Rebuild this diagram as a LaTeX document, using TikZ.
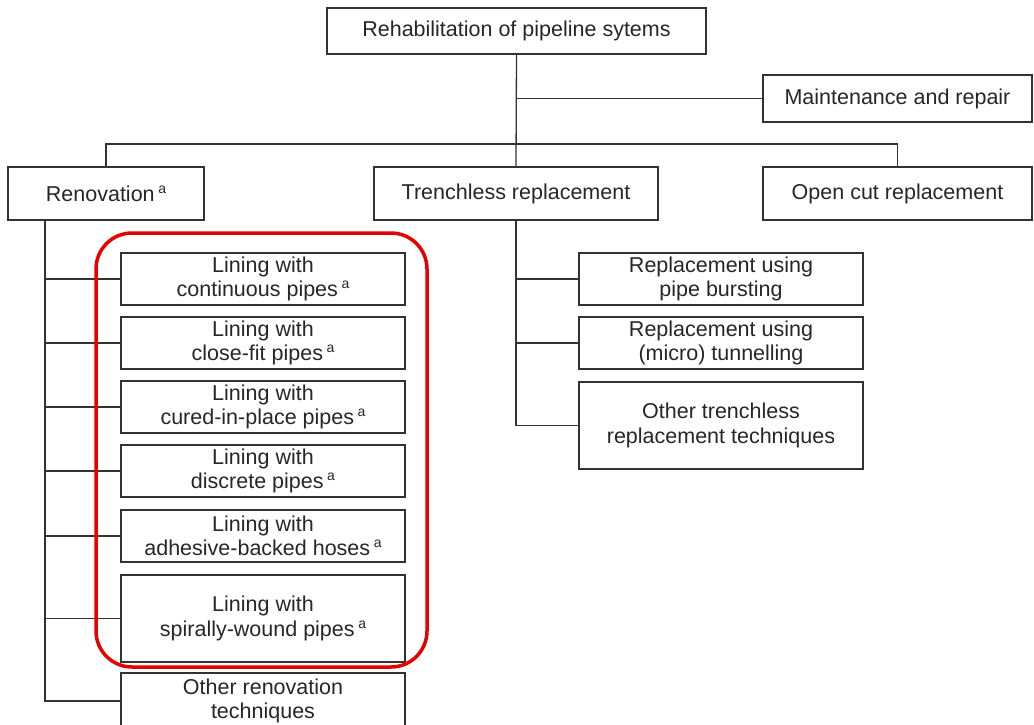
\documentclass[tikz,border=0pt]{standalone}
\usepackage{fontspec}
\setmainfont{Liberation Sans}
\newcommand{\supa}{\,\raisebox{0.7ex}{\fontsize{14}{14}\selectfont a}}
\begin{document}
\begin{tikzpicture}[x=1pt,y=-1pt,
  box/.style={draw=black!80, line width=1.3pt, inner sep=0pt, align=center,
    text=black!85, font=\fontsize{21.5}{24.5}\selectfont},
  conn/.style={draw=black!80, line width=1.3pt},
  hilite/.style={draw={rgb,255:red,230;green,0;blue,0}, line width=3.5pt, rounded corners=36pt}]
\useasboundingbox (0,0) rectangle (1034,724);
% top level
\node[box, minimum width=379pt, minimum height=46pt] (rehab) at (516.5,31) {Rehabilitation of pipeline sytems};
\node[box, minimum width=269pt, minimum height=47pt] (maint) at (897.5,98.5) {Maintenance and repair};
\node[box, minimum width=196pt, minimum height=53pt] (reno) at (106,193.5) {Renovation\supa};
\node[box, minimum width=284pt, minimum height=53pt] (trench) at (516,193.5) {Trenchless replacement};
\node[box, minimum width=269pt, minimum height=53pt] (open) at (897.5,193.5) {Open cut replacement};
% renovation children
\node[box, minimum width=284pt, minimum height=52pt] (c1) at (263,279) {Lining with\\continuous pipes\supa};
\node[box, minimum width=284pt, minimum height=52pt] (c2) at (263,343) {Lining with\\close-fit pipes\supa};
\node[box, minimum width=284pt, minimum height=52pt] (c3) at (263,407) {Lining with\\cured-in-place pipes\supa};
\node[box, minimum width=284pt, minimum height=52pt] (c4) at (263,471) {Lining with\\discrete pipes\supa};
\node[box, minimum width=284pt, minimum height=52pt] (c5) at (263,536) {Lining with\\adhesive-backed hoses\supa};
\node[box, minimum width=284pt, minimum height=87pt] (c6) at (263,618.5) {Lining with\\spirally-wound pipes\supa};
\node[box, minimum width=284pt, minimum height=56pt] (c7) at (263,701) {Other renovation\\techniques};
% trenchless children
\node[box, minimum width=284pt, minimum height=52pt] (t1) at (721,279) {Replacement using\\pipe bursting};
\node[box, minimum width=284pt, minimum height=52pt] (t2) at (721,343) {Replacement using\\(micro) tunnelling};
\node[box, minimum width=284pt, minimum height=87pt] (t3) at (721,425.5) {Other trenchless\\replacement techniques};
% connectors
\coordinate (bus) at (516,144);
\coordinate (rtop) at (45,220);
\draw[conn] (rehab.south) -- (trench.north);
\draw[conn] (rehab.south |- maint.west) -- (maint.west);
\draw[conn] (reno.north) |- (bus) -| (open.north);
\draw[conn] (rtop) |- (c7.west);
\foreach \c in {c1,c2,c3,c4,c5,c6}{\draw[conn] (rtop |- \c.west) -- (\c.west);}
\draw[conn] (trench.south) |- (t3.west);
\foreach \c in {t1,t2}{\draw[conn] (trench.south |- \c.west) -- (\c.west);}
% highlight
\draw[hilite] (96,233) rectangle (427,667);
\end{tikzpicture}
\end{document}
